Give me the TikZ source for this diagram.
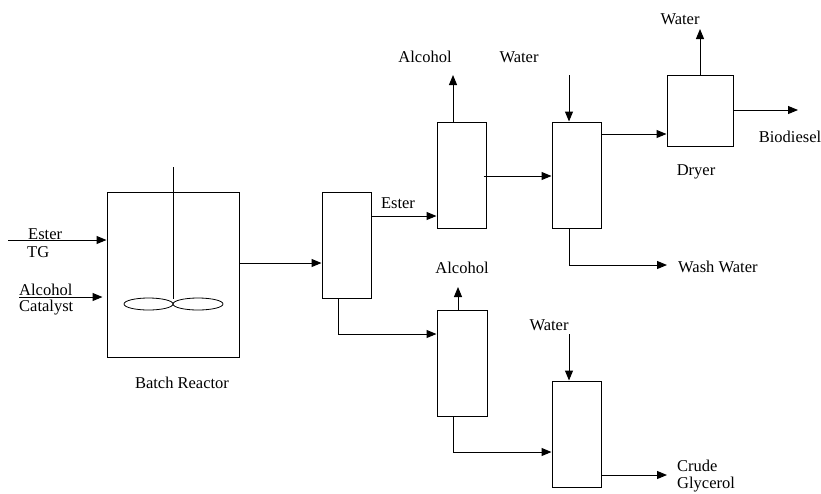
\documentclass[tikz,border=0pt]{standalone}
\usepackage{fontspec}
\setmainfont{Liberation Serif}
\usetikzlibrary{arrows.meta}
\usetikzlibrary{calc}

\tikzset{
  unit/.style={draw, line width=1pt, inner sep=0pt},
  flow/.style={line width=1pt, -{Triangle[length=10pt,width=8pt]}},
  lbl/.style={inner sep=0pt, font=\fontsize{16.5}{18}\selectfont},
}

\begin{document}
\begin{tikzpicture}[x=1pt,y=-1pt]
        \useasboundingbox (0,0) rectangle (821,493);
        % units
        \node[unit, minimum width=132pt, minimum height=165pt] (reactor) at (173,274.5) {};
        \node[unit, minimum width=49pt, minimum height=106pt] (sep) at (346.5,245) {};
        \node[unit, minimum width=49pt, minimum height=106pt] (evapA) at (461.5,175) {};
        \node[unit, minimum width=49pt, minimum height=106pt] (washA) at (576.5,175) {};
        \node[unit, minimum width=66pt, minimum height=71pt] (dryer) at (700,110.5) {};
        \node[unit, minimum width=50pt, minimum height=106pt] (evapB) at (462,363) {};
        \node[unit, minimum width=49pt, minimum height=106pt] (washB) at (576.5,434) {};
        % stirrer
        \draw[line width=1pt] (reactor.center |- 0,167) -- (173,299);
        \draw[line width=0.8pt] (148.5,304) ellipse [x radius=24.5pt, y radius=6pt];
        \draw[line width=0.8pt] (198,304) ellipse [x radius=25pt, y radius=6pt];
        % feeds
        \coordinate (esterin) at (8,240);
        \coordinate (alcin) at (19,297);
        \draw[flow] (esterin) -- (reactor.west |- esterin);
        \draw[flow, shorten >=4pt] (alcin) -- (reactor.west |- alcin);
        \node[lbl, anchor=west] (tEster) at (28,234) {Ester};
        \node[lbl, anchor=west] (tTG) at (27,252) {TG};
        \node[lbl, anchor=west] (tAlc) at (19,290) {Alcohol};
        \node[lbl, anchor=west] (tCat) at (19,308) {Catalyst};
        \node[lbl] (tReactor) at (182,383) {Batch Reactor};
        % ester line
        \draw[flow] (reactor.east |- 0,263) -- (sep.west |- 0,263);
        \draw[flow] (sep.east |- 0,216) -- (evapA.west |- 0,216);
        \node[lbl] (tEster2) at (398,203) {Ester};
        \coordinate (alcA) at (453,75);
        \draw[flow] (evapA.north -| alcA) -- (alcA);
        \node[lbl] (tAlcA) at (425,57) {Alcohol};
        \draw[flow] ($(evapA.east)+(-3,1)$) -- (washA.west |- 0,176);
        \coordinate (watA) at (569,75);
        \draw[flow] (watA) -- (washA.north -| watA);
        \node[lbl] (tWatA) at (519,57) {Water};
        \coordinate (wwout) at (667,265);
        \draw[flow] (washA.south -| watA) |- (wwout);
        \node[lbl, anchor=west] (tWW) at (678,267) {Wash Water};
        \draw[flow] (washA.east |- 0,134) -- (dryer.west |- 0,134);
        \coordinate (watD) at (700,29);
        \draw[flow] (dryer.north) -- (watD);
        \node[lbl] (tWatD) at (680,19) {Water};
        \coordinate (biod) at (798,110);
        \draw[flow] (dryer.east |- biod) -- (biod);
        \node[lbl] (tBiod) at (790,137) {Biodiesel};
        \node[lbl] (tDryer) at (696,172) {Dryer};
        % glycerol line
        \draw[flow] (sep.south -| 338,0) |- (evapB.west |- 0,334);
        \coordinate (alcB) at (458,287);
        \draw[flow] (evapB.north -| alcB) -- (alcB);
        \node[lbl] (tAlcB) at (462,268) {Alcohol};
        \draw[flow] (evapB.south -| 453,0) |- (washB.west |- 0,452);
        \coordinate (watB) at (569,334);
        \draw[flow] (watB) -- (washB.north -| watB);
        \node[lbl] (tWatB) at (549,325) {Water};
        \coordinate (glyc) at (667,475);
        \draw[flow] (washB.east |- glyc) -- (glyc);
        \node[lbl, anchor=west] (tCrude) at (677,466) {Crude};
        \node[lbl, anchor=west] (tGlyc) at (677,485) {Glycerol};
    \end{tikzpicture}
\end{document}
